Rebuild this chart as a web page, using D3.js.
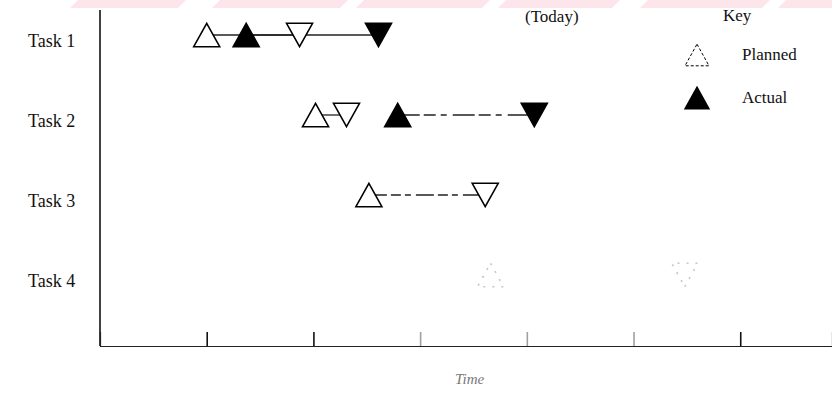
<!DOCTYPE html>
<html>
<head>
<meta charset="utf-8">
<script src="https://cdn.jsdelivr.net/npm/d3@7"></script>
<style>
  body { margin: 0; background: #fff; }
  svg { display: block; }
  text { font-family: "Liberation Serif", "DejaVu Serif", serif; fill: #111; }
</style>
</head>
<body>
<svg id="chart" width="832" height="394"></svg>
<script>
// Données (unités de temps arbitraires)
const tasks = ["Task 1", "Task 2", "Task 3", "Task 4"];
const plannedStart = [1.0, 2.02, 2.52, 3.66];
const plannedEnd = [1.87, 2.31, 3.61, 5.48];
const actualStart = [1.37, 2.79, null, null];
const actualEnd = [2.61, 4.07, null, null];
const timeTicks = [1, 2, 3, 4, 5, 6];

const svg = d3.select("#chart");
const W = 832, H = 394;
const margin = { top: 10, right: 0, bottom: 48, left: 100 };

// bande rose du scan en haut
const band = svg.append("g");
[[70, 178], [212, 340], [356, 482], [498, 612], [640, 762], [778, 840]].forEach(([a, b]) => {
  band.append("path")
    .attr("d", `M${a},8 L${a + 8},0 L${b + 8},0 L${b},8 Z`)
    .attr("fill", "#fde6eb");
});

const x = d3.scaleLinear().domain([0, 6.86]).range([margin.left, margin.left + 732]);
const y = d3.scalePoint().domain(tasks).range([38, 278]);

// axe vertical
svg.append("line")
  .attr("x1", margin.left).attr("x2", margin.left)
  .attr("y1", margin.top).attr("y2", H - margin.bottom)
  .attr("stroke", "#111").attr("stroke-width", 1.6);

// axe horizontal avec graduations vers le haut
const xAxis = svg.append("g")
  .attr("transform", `translate(0,${H - margin.bottom})`)
  .call(d3.axisBottom(x).tickValues(timeTicks).tickSize(-14).tickFormat(""));
xAxis.select(".domain").attr("stroke", "#222").attr("stroke-width", 1.2);
xAxis.selectAll(".tick line").attr("stroke", "#111").attr("stroke-width", 1.6)
  .attr("opacity", (d) => (d === 1 || d === 2 || d === 6) ? 1 : 0.4);

// étiquettes des tâches
svg.selectAll(".task-label")
  .data(tasks)
  .enter()
  .append("text")
  .attr("class", "task-label")
  .attr("x", 28)
  .attr("y", (d) => y(d) + 9)
  .attr("font-size", 18)
  .text((d) => d);

// titre de l'axe
svg.append("text")
  .attr("x", 455).attr("y", 384)
  .attr("font-size", 15).attr("font-style", "italic")
  .style("fill", "#777")
  .text("Time");

svg.append("text")
  .attr("x", 525).attr("y", 22)
  .attr("font-size", 17)
  .text("(Today)");

// triangles
const tri = (up, s) => {
  const h = s * 0.9;
  return up
    ? `M0,${-h / 2} L${s / 2},${h / 2} L${-s / 2},${h / 2} Z`
    : `M0,${h / 2} L${s / 2},${-h / 2} L${-s / 2},${-h / 2} Z`;
};
const SIZE = 26;
const rowStyle = (i) => i === 3
  ? { op: 0.22, dash: "2 7", line: false }
  : { op: 1, dash: null, line: true };

tasks.forEach((t, i) => {
  const cy = y(t) - 3;
  const st = rowStyle(i);
  const g = svg.append("g").attr("opacity", st.op);

  // lignes planifiée puis réelle
  if (st.line) {
    g.append("line")
      .attr("x1", x(plannedStart[i])).attr("x2", x(plannedEnd[i]))
      .attr("y1", cy).attr("y2", cy)
      .attr("stroke", "#222").attr("stroke-width", 1.3)
      .attr("stroke-dasharray", i === 2 ? "18 4 10 4 6 5" : null);
  }
  if (actualStart[i] != null) {
    g.append("line")
      .attr("x1", x(actualStart[i])).attr("x2", x(actualEnd[i]))
      .attr("y1", cy).attr("y2", cy)
      .attr("stroke", "#222").attr("stroke-width", 1.3)
      .attr("stroke-dasharray", i === 1 ? "22 4 12 5 6 6" : null);
  }

  const marks = [
    { v: plannedStart[i], up: true, fill: "#fff" },
    { v: plannedEnd[i], up: false, fill: "#fff" },
    { v: actualStart[i], up: true, fill: "#000" },
    { v: actualEnd[i], up: false, fill: "#000" }
  ].filter((m) => m.v != null);

  g.selectAll("path.mk")
    .data(marks)
    .enter()
    .append("path")
    .attr("class", "mk")
    .attr("transform", (m) => `translate(${x(m.v)},${cy})`)
    .attr("d", (m) => tri(m.up, SIZE))
    .attr("fill", (m) => m.fill)
    .attr("stroke", "#000")
    .attr("stroke-width", 1.6)
    .attr("stroke-dasharray", st.dash);
});

// légende
svg.append("text").attr("x", 723).attr("y", 21).attr("font-size", 17).text("Key");
const legend = [
  { label: "Planned", fill: "#fff", yy: 55 },
  { label: "Actual", fill: "#000", yy: 98 }
];
legend.forEach((l) => {
  svg.append("path")
    .attr("transform", `translate(697,${l.yy})`)
    .attr("d", tri(true, 24))
    .attr("fill", l.fill)
    .attr("stroke", "#000")
    .attr("stroke-width", l.fill === "#fff" ? 1 : 1.4)
    .attr("stroke-dasharray", l.fill === "#fff" ? "3 2" : null);
  svg.append("text")
    .attr("x", 742).attr("y", l.yy + 5)
    .attr("font-size", 17)
    .text(l.label);
});
</script>
</body>
</html>
